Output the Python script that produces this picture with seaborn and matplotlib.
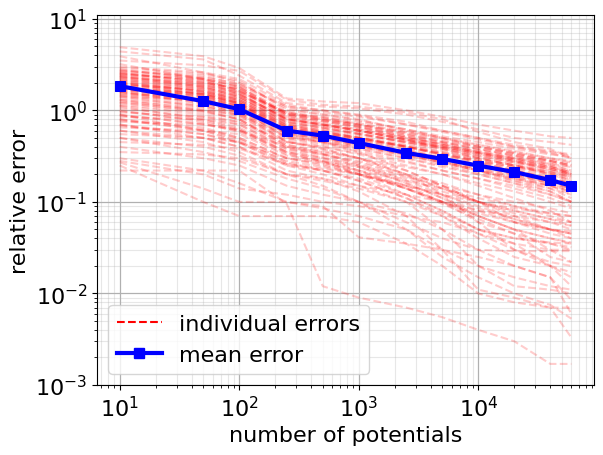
import numpy as np
import pandas as pd
import matplotlib
matplotlib.use("Agg")
import matplotlib.pyplot as plt
import seaborn as sns
from matplotlib.lines import Line2D

# number of potentials used at each step
n_potentials = [10, 50, 100, 250, 500, 1000, 2500, 5000, 10000, 20000, 40000, 60000]

# mean relative error over all runs
mean_error = [1.84, 1.26, 1.03, 0.60, 0.53, 0.44, 0.343, 0.295, 0.249, 0.212, 0.173, 0.15]

upper_runs = [
    [4.9, 3.9, 2.9, 1.35, 1.25, 1.2, 1.0, 0.85, 0.7, 0.6, 0.52, 0.5],
    [4.4, 3.6, 2.4, 1.2, 1.1, 1.05, 0.9, 0.75, 0.62, 0.5, 0.45, 0.42],
    [3.9, 2.6, 2.0, 1.1, 1.0, 0.9, 0.75, 0.6, 0.5, 0.42, 0.36, 0.33],
    [3.5, 3.1, 2.7, 1.3, 1.15, 1.1, 0.95, 0.8, 0.58, 0.45, 0.38, 0.3],
    [3.2, 2.2, 1.6, 0.95, 0.85, 0.75, 0.62, 0.5, 0.4, 0.33, 0.28, 0.25],
    [3.0, 2.6, 2.2, 1.15, 1.0, 0.88, 0.7, 0.58, 0.48, 0.4, 0.35, 0.32],
]

middle_runs = [
    [2.9, 2.5, 2.1, 1.0, 0.9, 0.8, 0.6, 0.5, 0.42, 0.36, 0.3, 0.28],
    [2.8, 2.2, 1.8, 0.9, 0.85, 0.7, 0.55, 0.45, 0.38, 0.32, 0.26, 0.22],
    [2.75, 2.3, 1.95, 1.05, 0.9, 0.78, 0.62, 0.52, 0.45, 0.38, 0.33, 0.31],
    [2.7, 2.4, 1.9, 1.1, 0.95, 0.85, 0.7, 0.6, 0.5, 0.4, 0.34, 0.3],
    [2.65, 2.25, 1.8, 0.92, 0.8, 0.68, 0.54, 0.45, 0.38, 0.32, 0.28, 0.25],
    [2.6, 2.0, 1.7, 0.85, 0.75, 0.65, 0.5, 0.42, 0.35, 0.3, 0.25, 0.2],
    [2.55, 2.15, 1.65, 0.88, 0.76, 0.66, 0.52, 0.44, 0.37, 0.31, 0.27, 0.24],
    [2.52, 2.05, 1.7, 0.9, 0.78, 0.66, 0.52, 0.42, 0.35, 0.29, 0.24, 0.21],
    [2.5, 2.1, 1.5, 0.8, 0.7, 0.6, 0.48, 0.4, 0.33, 0.28, 0.22, 0.19],
    [2.45, 2.2, 1.85, 0.95, 0.82, 0.7, 0.58, 0.48, 0.4, 0.34, 0.29, 0.26],
    [2.4, 1.9, 1.6, 0.95, 0.8, 0.72, 0.58, 0.5, 0.42, 0.35, 0.3, 0.27],
    [2.38, 1.95, 1.6, 0.82, 0.7, 0.6, 0.47, 0.38, 0.31, 0.26, 0.21, 0.18],
    [2.35, 1.8, 1.4, 0.75, 0.65, 0.55, 0.45, 0.38, 0.3, 0.25, 0.2, 0.17],
    [2.3, 2.0, 1.75, 0.9, 0.78, 0.7, 0.56, 0.46, 0.4, 0.34, 0.28, 0.25],
    [2.28, 1.82, 1.5, 0.8, 0.7, 0.6, 0.48, 0.39, 0.32, 0.27, 0.23, 0.2],
    [2.25, 1.9, 1.55, 0.78, 0.68, 0.6, 0.48, 0.4, 0.34, 0.28, 0.23, 0.2],
    [2.2, 1.7, 1.3, 0.7, 0.6, 0.5, 0.4, 0.32, 0.27, 0.22, 0.18, 0.15],
    [2.15, 1.85, 1.5, 0.8, 0.7, 0.62, 0.5, 0.42, 0.36, 0.3, 0.25, 0.22],
    [2.12, 1.78, 1.42, 0.74, 0.64, 0.56, 0.44, 0.36, 0.3, 0.25, 0.21, 0.19],
    [2.1, 1.6, 1.25, 0.65, 0.55, 0.48, 0.38, 0.3, 0.25, 0.2, 0.16, 0.13],
    [2.05, 1.6, 1.35, 0.72, 0.62, 0.55, 0.45, 0.4, 0.34, 0.29, 0.24, 0.21],
    [2.0, 1.75, 1.45, 0.85, 0.72, 0.62, 0.5, 0.43, 0.35, 0.3, 0.26, 0.24],
    [2.0, 1.5, 1.2, 0.55, 0.45, 0.35, 0.22, 0.15, 0.1, 0.06, 0.045, 0.04],
    [1.98, 1.62, 1.28, 0.68, 0.58, 0.5, 0.4, 0.33, 0.27, 0.22, 0.18, 0.16],
    [1.95, 1.5, 1.2, 0.6, 0.52, 0.45, 0.35, 0.28, 0.22, 0.18, 0.14, 0.12],
    [1.9, 1.65, 1.35, 0.75, 0.65, 0.55, 0.45, 0.38, 0.32, 0.27, 0.23, 0.2],
    [1.88, 1.7, 1.4, 0.8, 0.68, 0.58, 0.47, 0.4, 0.34, 0.28, 0.24, 0.21],
    [1.85, 1.4, 1.1, 0.55, 0.5, 0.42, 0.33, 0.27, 0.22, 0.17, 0.13, 0.1],
    [1.82, 1.48, 1.18, 0.64, 0.55, 0.47, 0.37, 0.3, 0.25, 0.21, 0.17, 0.15],
    [1.8, 1.55, 1.3, 0.7, 0.6, 0.52, 0.42, 0.35, 0.3, 0.25, 0.2, 0.18],
    [1.75, 1.45, 1.15, 0.62, 0.55, 0.48, 0.4, 0.33, 0.28, 0.23, 0.19, 0.16],
    [1.72, 1.55, 1.2, 0.66, 0.57, 0.5, 0.41, 0.34, 0.29, 0.25, 0.22, 0.2],
    [1.7, 1.3, 1.05, 0.5, 0.45, 0.38, 0.3, 0.24, 0.2, 0.16, 0.12, 0.1],
    [1.68, 1.42, 1.12, 0.6, 0.52, 0.44, 0.35, 0.29, 0.24, 0.2, 0.17, 0.14],
    [1.65, 1.5, 1.25, 0.68, 0.58, 0.5, 0.4, 0.34, 0.28, 0.24, 0.21, 0.19],
    [1.6, 1.35, 1.1, 0.58, 0.5, 0.43, 0.35, 0.3, 0.25, 0.2, 0.16, 0.14],
    [1.6, 1.2, 0.95, 0.45, 0.38, 0.3, 0.2, 0.12, 0.06, 0.045, 0.025, 0.022],
    [1.58, 1.32, 1.06, 0.56, 0.48, 0.41, 0.33, 0.27, 0.22, 0.18, 0.15, 0.13],
    [1.55, 1.25, 1.0, 0.52, 0.46, 0.4, 0.32, 0.26, 0.21, 0.17, 0.14, 0.11],
    [1.5, 1.4, 1.2, 0.65, 0.56, 0.5, 0.4, 0.33, 0.28, 0.24, 0.2, 0.17],
    [1.48, 1.28, 1.05, 0.58, 0.5, 0.43, 0.34, 0.28, 0.23, 0.19, 0.16, 0.14],
    [1.45, 1.2, 0.95, 0.5, 0.44, 0.38, 0.3, 0.25, 0.2, 0.16, 0.13, 0.1],
    [1.42, 1.1, 0.88, 0.46, 0.38, 0.3, 0.2, 0.14, 0.1, 0.075, 0.06, 0.05],
    [1.4, 1.3, 1.15, 0.6, 0.52, 0.45, 0.36, 0.3, 0.26, 0.22, 0.18, 0.16],
    [1.35, 1.15, 0.9, 0.48, 0.42, 0.36, 0.28, 0.22, 0.18, 0.14, 0.11, 0.09],
    [1.3, 1.1, 0.95, 0.55, 0.48, 0.42, 0.34, 0.28, 0.23, 0.19, 0.15, 0.13],
    [1.3, 1.0, 0.8, 0.4, 0.33, 0.25, 0.16, 0.11, 0.07, 0.05, 0.04, 0.036],
    [1.25, 1.05, 0.85, 0.45, 0.4, 0.34, 0.27, 0.22, 0.18, 0.15, 0.12, 0.1],
    [1.22, 0.98, 0.8, 0.42, 0.34, 0.26, 0.17, 0.12, 0.085, 0.065, 0.05, 0.045],
    [1.2, 1.0, 0.9, 0.52, 0.45, 0.4, 0.32, 0.27, 0.22, 0.18, 0.15, 0.12],
    [1.15, 0.95, 0.8, 0.42, 0.36, 0.3, 0.24, 0.2, 0.16, 0.13, 0.1, 0.085],
    [1.12, 0.9, 0.74, 0.4, 0.33, 0.27, 0.19, 0.14, 0.1, 0.08, 0.065, 0.06],
    [1.1, 0.8, 0.65, 0.36, 0.3, 0.22, 0.14, 0.1, 0.06, 0.03, 0.02, 0.017],
    [1.05, 0.85, 0.7, 0.38, 0.31, 0.24, 0.16, 0.11, 0.08, 0.06, 0.05, 0.048],
]

lower_runs = [
    [1.0, 0.75, 0.6, 0.35, 0.28, 0.2, 0.12, 0.08, 0.05, 0.04, 0.035, 0.032],
    [0.98, 0.78, 0.62, 0.34, 0.28, 0.22, 0.15, 0.1, 0.07, 0.05, 0.04, 0.035],
    [0.95, 0.85, 0.75, 0.45, 0.4, 0.33, 0.25, 0.2, 0.15, 0.11, 0.08, 0.06],
    [0.9, 0.7, 0.6, 0.4, 0.35, 0.3, 0.22, 0.15, 0.1, 0.07, 0.05, 0.045],
    [0.9, 0.6, 0.45, 0.25, 0.2, 0.15, 0.1, 0.05, 0.02, 0.012, 0.011, 0.010],
    [0.88, 0.72, 0.58, 0.33, 0.27, 0.21, 0.14, 0.095, 0.065, 0.045, 0.035, 0.03],
    [0.85, 0.8, 0.7, 0.38, 0.33, 0.28, 0.2, 0.16, 0.12, 0.09, 0.07, 0.06],
    [0.8, 0.65, 0.5, 0.3, 0.26, 0.2, 0.14, 0.1, 0.07, 0.05, 0.03, 0.022],
    [0.8, 0.6, 0.48, 0.27, 0.22, 0.17, 0.11, 0.07, 0.04, 0.025, 0.02, 0.015],
    [0.78, 0.62, 0.5, 0.3, 0.25, 0.2, 0.14, 0.1, 0.075, 0.06, 0.05, 0.045],
    [0.75, 0.7, 0.62, 0.35, 0.3, 0.25, 0.19, 0.15, 0.12, 0.1, 0.085, 0.075],
    [0.7, 0.55, 0.45, 0.28, 0.24, 0.2, 0.15, 0.12, 0.09, 0.065, 0.05, 0.04],
    [0.7, 0.5, 0.4, 0.22, 0.18, 0.13, 0.07, 0.03, 0.011, 0.009, 0.007, 0.0033],
    [0.68, 0.55, 0.44, 0.26, 0.22, 0.17, 0.11, 0.075, 0.05, 0.04, 0.036, 0.035],
    [0.65, 0.6, 0.55, 0.32, 0.28, 0.24, 0.18, 0.13, 0.1, 0.08, 0.065, 0.055],
    [0.6, 0.5, 0.4, 0.25, 0.22, 0.18, 0.12, 0.08, 0.05, 0.035, 0.02, 0.012],
    [0.6, 0.45, 0.35, 0.2, 0.15, 0.1, 0.06, 0.04, 0.03, 0.029, 0.029, 0.029],
    [0.55, 0.5, 0.45, 0.3, 0.27, 0.22, 0.17, 0.14, 0.11, 0.09, 0.075, 0.07],
    [0.5, 0.4, 0.32, 0.2, 0.17, 0.14, 0.1, 0.07, 0.045, 0.03, 0.022, 0.02],
    [0.5, 0.35, 0.28, 0.18, 0.14, 0.1, 0.05, 0.025, 0.015, 0.01, 0.0075, 0.0053],
    [0.45, 0.42, 0.38, 0.26, 0.23, 0.2, 0.15, 0.12, 0.1, 0.085, 0.075, 0.07],
    [0.4, 0.3, 0.25, 0.15, 0.12, 0.1, 0.075, 0.05, 0.03, 0.02, 0.015, 0.006],
    [0.35, 0.33, 0.3, 0.2, 0.18, 0.15, 0.12, 0.1, 0.08, 0.07, 0.06, 0.055],
    [0.3, 0.22, 0.16, 0.1, 0.085, 0.07, 0.05, 0.03, 0.02, 0.015, 0.012, 0.011],
    [0.28, 0.2, 0.14, 0.12, 0.1, 0.09, 0.07, 0.06, 0.045, 0.035, 0.03, 0.03],
    [0.27, 0.14, 0.1, 0.1, 0.09, 0.041, 0.035, 0.03, 0.025, 0.02, 0.015, 0.0085],
    [0.25, 0.1, 0.07, 0.07, 0.07, 0.06, 0.035, 0.02, 0.01, 0.008, 0.007, 0.007],
    [0.22, 0.22, 0.22, 0.095, 0.012, 0.009, 0.007, 0.0055, 0.004, 0.003, 0.0017, 0.0017],
]

all_runs = upper_runs + middle_runs + lower_runs
rows = []
for run_id, run in enumerate(all_runs):
    for n, err in zip(n_potentials, run):
        rows.append({"run": run_id, "n": n, "error": err})
runs_df = pd.DataFrame(rows)
mean_df = pd.DataFrame({"n": n_potentials, "error": mean_error})

plt.rcParams["font.size"] = 16
plt.rcParams["font.family"] = ["DejaVu Sans"]

fig = plt.figure(figsize=(6.03, 4.56), dpi=100)
ax = fig.add_axes([0.161, 0.1535, 0.824, 0.8114])

sns.lineplot(data=runs_df, x="n", y="error", units="run", estimator=None,
             color="red", alpha=0.2, linestyle="--", linewidth=1.5, ax=ax, legend=False)
sns.lineplot(data=mean_df, x="n", y="error", color="blue", marker="s", markersize=7,
             markeredgecolor="blue", linewidth=3, ax=ax, legend=False)

ax.set_xscale("log")
ax.set_yscale("log")
ax.set_ylim(1e-3, 11)
ax.grid(True, which="major", color="#b0b0b0", linewidth=0.9)
ax.grid(True, which="minor", color="#b0b0b0", alpha=0.3, linewidth=0.8)
ax.set_axisbelow(True)
ax.set_xlabel("number of potentials")
ax.set_ylabel("relative error")

handles = [
    Line2D([0], [0], color="red", linestyle="--", linewidth=1.5),
    Line2D([0], [0], color="blue", marker="s", markersize=7, linewidth=3),
]
ax.legend(handles, ["individual errors", "mean error"], loc="lower left", fontsize=16)

fig.savefig("out.png", dpi=100)
